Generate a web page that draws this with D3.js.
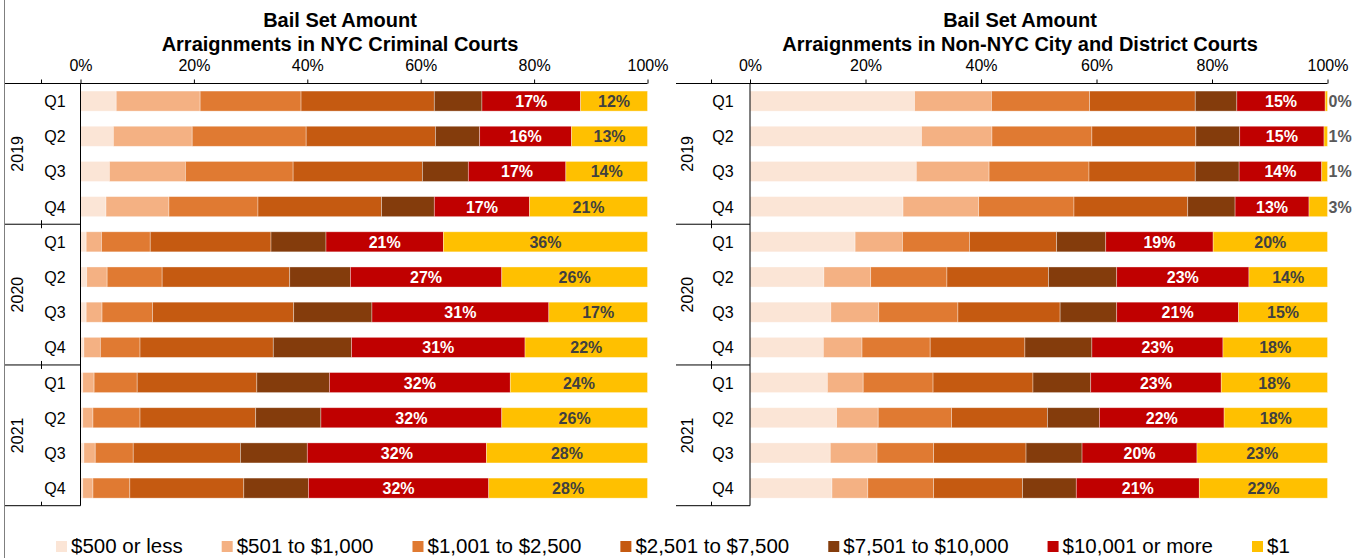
<!DOCTYPE html>
<html>
<head>
<meta charset="utf-8">
<script src="https://cdn.jsdelivr.net/npm/d3@7"></script>
<style>
  body { margin: 0; background: #fff; }
  svg { display: block; font-family: "Liberation Sans", Arial, sans-serif; }
</style>
</head>
<body>
<div id="chart"></div>
<script>
// Kategorien und Legende
var bands = ["$500 or less", "$501 to $1,000", "$1,001 to $2,500", "$2,501 to $7,500",
             "$7,501 to $10,000", "$10,001 or more", "$1"];
var colors = ["#FBE5D6", "#F4B183", "#E07A32", "#C55A11", "#843C0C", "#C00000", "#FFC000"];
var years = ["2019", "2020", "2021"];
var quarters = ["Q1", "Q2", "Q3", "Q4"];
var tickValues = [0, 0.2, 0.4, 0.6, 0.8, 1];

// NYC Criminal Courts (Anteile in %, je 12 Quartale)
var nyc500 = [6.3, 5.8, 5.1, 4.5, 1.0, 1.1, 1.0, 0.6, 0.4, 0.4, 0.6, 0.4];
var nyc1000 = [14.8, 13.9, 13.4, 11.1, 2.7, 3.6, 2.8, 2.9, 2.0, 1.8, 2.0, 1.8];
var nyc2500 = [17.8, 20.1, 19.0, 15.7, 8.6, 9.7, 8.9, 7.0, 7.6, 8.3, 6.7, 6.5];
var nyc7500 = [23.5, 22.8, 22.8, 21.8, 21.3, 22.5, 24.9, 23.5, 21.1, 20.4, 18.9, 20.1];
var nyc10000 = [8.4, 7.8, 8.1, 9.3, 9.7, 10.7, 13.8, 13.8, 12.8, 11.5, 11.8, 11.4];
var nycOver = [17.4, 16.2, 17.2, 16.8, 20.7, 26.7, 31.2, 30.6, 31.9, 31.9, 31.6, 31.8];
var nycOne = [11.8, 13.4, 14.4, 20.8, 36.0, 25.7, 17.4, 21.6, 24.2, 25.7, 28.4, 28.0];

// Non-NYC City and District Courts
var oth500 = [28.5, 29.7, 28.8, 26.5, 18.2, 12.8, 14.0, 12.7, 13.4, 15.0, 13.9, 14.2];
var oth1000 = [13.3, 12.2, 12.6, 13.1, 8.2, 8.1, 8.3, 6.7, 6.2, 7.2, 8.1, 6.2];
var oth2500 = [17.0, 17.3, 17.3, 16.5, 11.6, 13.2, 13.7, 11.8, 12.1, 12.7, 9.8, 11.4];
var oth7500 = [18.3, 18.0, 18.4, 19.7, 15.1, 17.6, 17.7, 16.4, 17.3, 16.6, 16.0, 15.4];
var oth10000 = [7.2, 7.6, 7.6, 8.2, 8.5, 11.8, 9.8, 11.6, 10.0, 9.0, 9.7, 9.3];
var othOver = [15.3, 14.6, 14.3, 12.8, 18.6, 22.9, 21.1, 22.7, 22.6, 21.6, 19.9, 21.3];
var othOne = [0.4, 0.6, 1.0, 3.2, 19.8, 13.6, 15.4, 18.1, 18.4, 17.9, 22.6, 22.2];

var W = 1360, H = 558;
var svg = d3.select("#chart").append("svg")
    .attr("width", W)
    .attr("height", H);

// Rahmenlinie links
svg.append("line")
    .attr("x1", 4.5).attr("x2", 4.5).attr("y1", 0).attr("y2", H)
    .attr("stroke", "#7f7f7f").attr("stroke-width", 1);

// Zeilen: Jahr + Quartal
var rows = [];
years.forEach(function(yr) {
    quarters.forEach(function(q) { rows.push(yr + "-" + q); });
});

var y = d3.scaleBand()
    .domain(rows)
    .range([83.5, 505.7])
    .paddingInner(0.43)
    .paddingOuter(0.215);

function drawPanel(p) {
    // Tabelle für d3.stack aus den Arrays bauen
    var table = rows.map(function(r, i) {
        var o = { row: r };
        bands.forEach(function(b, k) { o[b] = p.series[k][i] / 100; });
        return o;
    });
    var stacked = d3.stack().keys(bands)(table);

    var x = d3.scaleLinear().domain([0, 1]).range([p.x0, p.x1]);

    var g = svg.append("g");

    // Titel
    g.append("text")
        .attr("x", p.titleX).attr("y", 27)
        .attr("text-anchor", "middle")
        .style("font-weight", "bold").style("font-size", "20px")
        .text("Bail Set Amount");
    g.append("text")
        .attr("x", p.titleX).attr("y", 51)
        .attr("text-anchor", "middle")
        .style("font-weight", "bold").style("font-size", "20px")
        .text(p.title);

    // x-Achse oben
    var xAxis = g.append("g")
        .attr("transform", "translate(0," + y.range()[0] + ")")
        .call(d3.axisTop(x).tickValues(tickValues).tickFormat(d3.format(".0%"))
            .tickSize(4).tickSizeOuter(0));
    xAxis.select(".domain").remove();
    xAxis.selectAll("line").attr("stroke", "#000");
    xAxis.selectAll("text")
        .attr("dy", 0).attr("y", -13)
        .style("font-size", "16px")
        .style("font-family", "'Liberation Sans', Arial, sans-serif")
        .attr("fill", "#000");

    // Linie oben über ganze Breite
    g.append("line")
        .attr("x1", p.catLeft).attr("x2", p.x1)
        .attr("y1", y.range()[0]).attr("y2", y.range()[0])
        .attr("stroke", "#000");

    // Balken
    var layer = g.selectAll(".layer")
        .data(stacked)
        .enter().append("g")
        .attr("fill", function(d, i) { return colors[i]; });

    layer.selectAll("rect")
        .data(function(d) { return d; })
        .enter().append("rect")
        .attr("x", function(d) { return x(d[0]); })
        .attr("y", function(d) { return y(d.data.row); })
        .attr("width", function(d) { return Math.max(0, x(d[1]) - x(d[0])); })
        .attr("height", y.bandwidth())
        .attr("stroke", "#fff")
        .attr("stroke-opacity", 0.45)
        .attr("stroke-width", 0.75);

    // Beschriftung der Segmente (rot und gelb)
    [5, 6].forEach(function(k) {
        var key = bands[k];
        g.selectAll(".lab" + k)
            .data(stacked[k])
            .enter().append("text")
            .attr("x", function(d) {
                if (k == 6 && d.data[key] < 0.05) return x(d[1]) + 1;
                return (x(d[0]) + x(d[1])) / 2;
            })
            .attr("y", function(d) { return y(d.data.row) + y.bandwidth() / 2 + 6; })
            .attr("text-anchor", function(d) {
                return (k == 6 && d.data[key] < 0.05) ? "start" : "middle";
            })
            .style("font-weight", "bold").style("font-size", "16px")
            .attr("fill", function(d) {
                if (k == 5) return "#fff";
                return (d.data[key] < 0.05) ? "#595959" : "#404040";
            })
            .text(function(d) { return Math.round(d.data[key] * 100) + "%"; });
    });

    // y-Achse (mehrstufig)
    g.append("line")
        .attr("x1", p.x0).attr("x2", p.x0)
        .attr("y1", y.range()[0]).attr("y2", y.range()[1])
        .attr("stroke", "#000");

    var groupH = (y.range()[1] - y.range()[0]) / years.length;
    d3.range(years.length + 1).forEach(function(i) {
        var yy = y.range()[0] + i * groupH;
        if (i > 0) {
            g.append("line")
                .attr("x1", p.catLeft).attr("x2", p.x0)
                .attr("y1", yy).attr("y2", yy)
                .attr("stroke", "#000");
        }
        g.append("line")
            .attr("x1", p.sepX).attr("x2", p.sepX)
            .attr("y1", yy - 4).attr("y2", yy + (i == 0 || i == years.length ? 0 : 4))
            .attr("stroke", "#000");
    });

    g.selectAll(".ql")
        .data(rows)
        .enter().append("text")
        .attr("x", p.qX)
        .attr("y", function(d) { return y(d) + y.bandwidth() / 2 + 6; })
        .attr("text-anchor", "middle")
        .style("font-size", "16px")
        .text(function(d) { return d.split("-")[1]; });

    g.selectAll(".yl")
        .data(years)
        .enter().append("text")
        .attr("transform", function(d, i) {
            var cy = y.range()[0] + (i + 0.5) * groupH;
            return "translate(" + (p.yearX + 6) + "," + cy + ") rotate(-90)";
        })
        .attr("text-anchor", "middle")
        .style("font-size", "16px")
        .text(function(d) { return d; });
}

drawPanel({
    title: "Arraignments in NYC Criminal Courts",
    titleX: 340,
    x0: 80.5, x1: 647.5,
    catLeft: 5, sepX: 41.5, qX: 55, yearX: 17,
    series: [nyc500, nyc1000, nyc2500, nyc7500, nyc10000, nycOver, nycOne]
});

drawPanel({
    title: "Arraignments in Non-NYC City and District Courts",
    titleX: 1020,
    x0: 750, x1: 1327.5,
    catLeft: 676, sepX: 711.5, qX: 723, yearX: 687,
    series: [oth500, oth1000, oth2500, oth7500, oth10000, othOver, othOne]
});

// Legende
var legend = svg.append("g").attr("transform", "translate(56,541)");
var lx = 0;
bands.forEach(function(b, i) {
    var item = legend.append("g").attr("transform", "translate(" + lx + ",0)");
    item.append("rect")
        .attr("width", 11).attr("height", 11)
        .attr("fill", colors[i]);
    var t = item.append("text")
        .attr("x", 15).attr("y", 12)
        .style("font-size", "20.5px")
        .text(b);
    lx += 15 + t.node().getComputedTextLength() + 39;
});
</script>
</body>
</html>
